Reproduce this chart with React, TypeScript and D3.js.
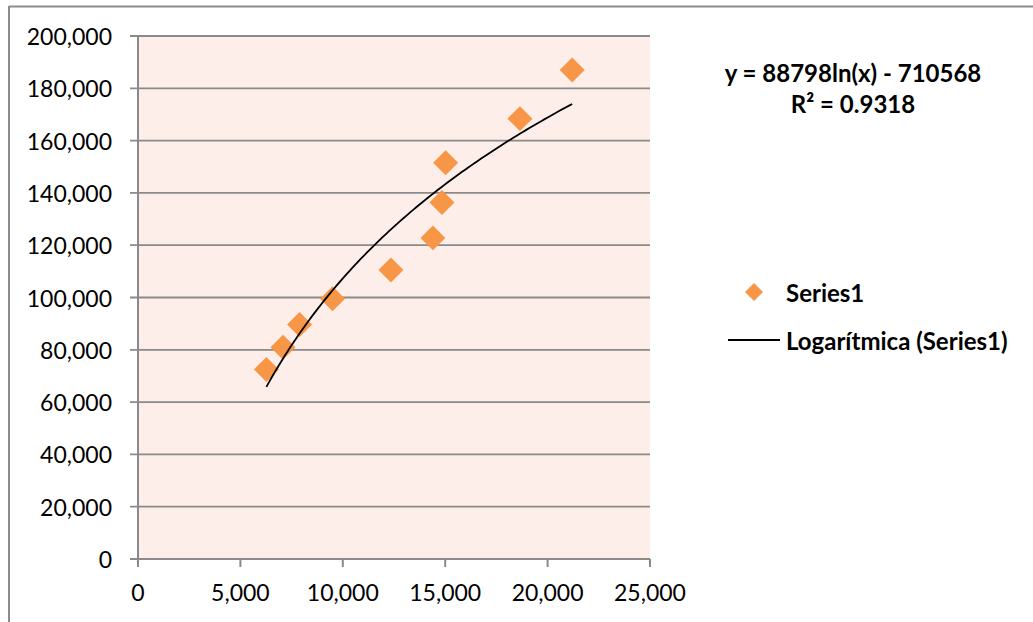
import React from "react";
import * as d3 from "d3";

// Observed points (x, y)
const xValues = [6270, 7080, 7890, 9500, 12350, 14400, 14840, 15020, 18650, 21200];
const yValues = [72500, 81000, 89700, 99500, 110500, 122800, 136300, 151500, 168400, 187000];

// Axis ticks
const xTicks = [0, 5000, 10000, 15000, 20000, 25000];
const yTicks = [0, 20000, 40000, 60000, 80000, 100000, 120000, 140000, 160000, 180000, 200000];

// Logarithmic trend: y = a ln(x) + b
const trendA = 88798;
const trendB = -710568;
const trendR2 = 0.9318;

const seriesName = "Series1";
const trendName = "Logarítmica (Series1)";

const W = 1033;
const H = 622;
const FONT = "Lato, 'Open Sans', sans-serif";
const GRID = "#8a8a8a";
const ORANGE = "#F79646";

export default function App() {
  const x = d3.scaleLinear().domain([0, 25000]).range([138, 650]);
  const y = d3.scaleLinear().domain([0, 200000]).range([559, 36]);
  const fmt = d3.format(",");

  const xMin = d3.min(xValues) as number;
  const xMax = d3.max(xValues) as number;
  const trendPts = d3.range(0, 101).map((i) => {
    const xv = xMin + ((xMax - xMin) * i) / 100;
    return [xv, trendA * Math.log(xv) + trendB] as [number, number];
  });
  const trendPath = d3
    .line<[number, number]>()
    .x((d) => x(d[0]))
    .y((d) => y(d[1]))(trendPts) as string;

  const bigDiamond = d3.symbol().type(d3.symbolSquare).size(312)() as string;
  const smallDiamond = d3.symbol().type(d3.symbolSquare).size(162)() as string;

  const [x0, x1] = x.range();
  const [y0, y1] = y.range();

  return (
    <svg
      width={W}
      height={H}
      style={{ position: "absolute", left: 0, top: 0, display: "block" }}
      fontFamily={FONT}
    >
      <rect x={0} y={0} width={W} height={H} fill="#ffffff" />
      {/* chart border */}
      <line x1={9} y1={6.5} x2={W + 2} y2={6.5} stroke="#8c8c8c" strokeWidth={2} />
      <line x1={9} y1={6} x2={9} y2={H + 2} stroke="#8c8c8c" strokeWidth={2} />

      {/* plot area */}
      <rect x={x0} y={y1} width={x1 - x0} height={y0 - y1} fill="#fdeee9" />

      {/* gridlines + y ticks */}
      {yTicks.map((t) => (
        <g key={"y" + t}>
          <line x1={x0 - 8} x2={x1} y1={y(t)} y2={y(t)} stroke={GRID} strokeWidth={1.8} />
          <text
            x={112}
            y={y(t)}
            textAnchor="end"
            dominantBaseline="central"
            fontSize={23}
            fill="#000"
          >
            {fmt(t)}
          </text>
        </g>
      ))}

      {/* axes */}
      <line x1={x0} x2={x0} y1={y1} y2={y0} stroke={GRID} strokeWidth={2} />
      <line x1={x0} x2={x1} y1={y0} y2={y0} stroke={GRID} strokeWidth={2} />
      {xTicks.map((t) => (
        <g key={"x" + t}>
          <line x1={x(t)} x2={x(t)} y1={y0} y2={y0 + 8} stroke={GRID} strokeWidth={2} />
          <text
            x={x(t)}
            y={592}
            textAnchor="middle"
            dominantBaseline="central"
            fontSize={23}
            fill="#000"
          >
            {fmt(t)}
          </text>
        </g>
      ))}

      {/* points */}
      {xValues.map((xv, i) => (
        <path
          key={"p" + i}
          d={bigDiamond}
          transform={`translate(${x(xv)},${y(yValues[i])}) rotate(45)`}
          fill={ORANGE}
        />
      ))}

      {/* trendline */}
      <path d={trendPath} fill="none" stroke="#000" strokeWidth={1.8} />

      {/* equation */}
      <text x={853} y={72} textAnchor="middle" dominantBaseline="central" fontSize={24} fontWeight="bold">
        {`y = ${trendA}ln(x) - ${Math.abs(trendB)}`}
      </text>
      <text x={853} y={103} textAnchor="middle" dominantBaseline="central" fontSize={24} fontWeight="bold">
        R² = {trendR2}
      </text>

      {/* legend */}
      <path d={smallDiamond} transform="translate(754,292) rotate(45)" fill={ORANGE} />
      <text x={786} y={292} dominantBaseline="central" fontSize={24} fontWeight="bold">
        {seriesName}
      </text>
      <line x1={728} x2={780} y1={340} y2={340} stroke="#000" strokeWidth={1.8} />
      <text x={786} y={340} dominantBaseline="central" fontSize={24} fontWeight="bold">
        {trendName}
      </text>
    </svg>
  );
}
